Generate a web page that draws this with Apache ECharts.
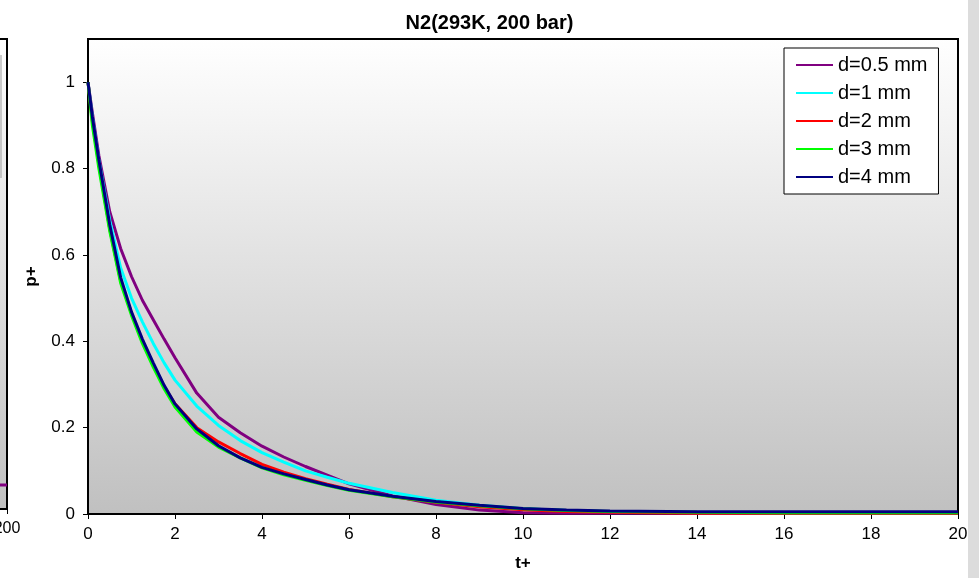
<!DOCTYPE html>
<html>
<head>
<meta charset="utf-8">
<script src="https://cdn.jsdelivr.net/npm/echarts@6/dist/echarts.min.js"></script>
<style>html,body{margin:0;padding:0;background:#fff;}#c{width:979px;height:578px;}</style>
</head>
<body>
<div id="c"></div>
<script>
const titleText = 'N2(293K, 200 bar)';
const seriesNames = ['d=0.5 mm', 'd=1 mm', 'd=2 mm', 'd=3 mm', 'd=4 mm'];
const tVals = [0, 0.1, 0.25, 0.5, 0.75, 1, 1.25, 1.5, 1.75, 2, 2.5, 3, 3.5, 4, 4.5, 5, 5.5, 6, 7, 8, 9, 10, 11, 12, 14, 16, 18, 20];
const pD05 = [1, 0.93, 0.83, 0.7, 0.615, 0.55, 0.495, 0.45, 0.405, 0.362, 0.28, 0.224, 0.188, 0.157, 0.132, 0.11, 0.09, 0.07, 0.042, 0.022, 0.009, 0.003, 0.002, 0.002, 0.002, 0.002, 0.002, 0.002];
const pD1  = [1, 0.92, 0.82, 0.68, 0.57, 0.5, 0.445, 0.395, 0.35, 0.31, 0.25, 0.205, 0.17, 0.142, 0.12, 0.1, 0.085, 0.071, 0.05, 0.032, 0.02, 0.012, 0.008, 0.005, 0.003, 0.003, 0.003, 0.003];
const pD2  = [1, 0.91, 0.81, 0.66, 0.54, 0.465, 0.4, 0.345, 0.295, 0.255, 0.2, 0.167, 0.14, 0.115, 0.097, 0.082, 0.069, 0.057, 0.04, 0.027, 0.017, 0.01, 0.006, 0.004, 0.002, 0.002, 0.002, 0.002];
const pD3  = [1, 0.9, 0.8, 0.655, 0.535, 0.46, 0.395, 0.34, 0.29, 0.248, 0.19, 0.155, 0.13, 0.107, 0.091, 0.078, 0.066, 0.055, 0.04, 0.028, 0.019, 0.012, 0.008, 0.006, 0.004, 0.003, 0.003, 0.003];
const pD4  = [1, 0.92, 0.82, 0.67, 0.548, 0.468, 0.405, 0.35, 0.298, 0.255, 0.197, 0.158, 0.13, 0.108, 0.093, 0.08, 0.067, 0.056, 0.041, 0.029, 0.02, 0.013, 0.009, 0.007, 0.005, 0.005, 0.005, 0.005];
const xMax = 20;
const yTicks = [0, 0.2, 0.4, 0.6, 0.8, 1];
const leftT = [170, 200];
const leftP = [0.056, 0.056];

const colors = ['#800080', '#00ffff', '#ff0000', '#00ff00', '#000080'];
const allP = [pD05, pD1, pD2, pD3, pD4];
const font = 'Arial, "Liberation Sans", sans-serif';
const grad = () => ({type:'linear', x:0, y:0, x2:0, y2:1, colorStops:[{offset:0,color:'#ffffff'},{offset:1,color:'#c0c0c0'}]});

const chart = echarts.init(document.getElementById('c'));
const series = allP.map((arr, i) => ({
  name: seriesNames[i], type: 'line', xAxisIndex: 0, yAxisIndex: 0,
  data: tVals.map((t, j) => [t, arr[j]]),
  showSymbol: false, smooth: false,
  lineStyle: {color: colors[i], width: 3}, itemStyle: {color: colors[i]},
  animation: false, z: 3 + i
}));
series.push({
  name: 'left', type: 'line', xAxisIndex: 1, yAxisIndex: 1,
  data: leftT.map((t, j) => [t, leftP[j]]), showSymbol: false,
  lineStyle: {color: '#800080', width: 3}, animation: false
});

chart.setOption({
  animation: false,
  backgroundColor: '#ffffff',
  title: {text: titleText, left: 'center', top: 8,
    textStyle: {fontFamily: font, fontSize: 20, fontWeight: 'bold', color: '#000'}},
  legend: {
    data: seriesNames, orient: 'vertical', left: 784, top: 48,
    padding: [7, 11, 7, 12], itemGap: 8, itemWidth: 37, itemHeight: 2,
    icon: 'rect', backgroundColor: '#ffffff', borderColor: '#000', borderWidth: 1,
    textStyle: {fontFamily: font, fontSize: 20, color: '#000', lineHeight: 20}
  },
  grid: [
    {left: 88, right: 21, top: 39, bottom: 64, show: true, backgroundColor: grad(), borderColor: '#000', borderWidth: 2, outerBoundsMode: 'none', containLabel: false},
    {left: -393, width: 400, top: 39, bottom: 69, show: true, backgroundColor: grad(), borderColor: '#000', borderWidth: 2, outerBoundsMode: 'none', containLabel: false}
  ],
  xAxis: [
    {type: 'value', gridIndex: 0, min: 0, max: xMax, interval: 2,
      name: 't+', nameLocation: 'middle', nameGap: 41,
      nameTextStyle: {fontFamily: font, fontSize: 17, fontWeight: 'bold', color: '#000'},
      axisLine: {lineStyle: {color: '#000', width: 2}},
      axisTick: {lineStyle: {color: '#000'}, length: 5},
      axisLabel: {fontFamily: font, fontSize: 17, color: '#000', margin: 12},
      splitLine: {show: false}},
    {type: 'value', gridIndex: 1, min: 0, max: 200, interval: 50,
      axisLine: {lineStyle: {color: '#000', width: 2}},
      axisTick: {lineStyle: {color: '#000'}, length: 5},
      axisLabel: {fontFamily: font, fontSize: 16, color: '#000', margin: 12},
      splitLine: {show: false}}
  ],
  yAxis: [
    {type: 'value', gridIndex: 0, min: 0, max: 1.1,
      name: 'p+', nameLocation: 'middle', nameGap: 48, nameRotate: 90,
      nameTextStyle: {fontFamily: font, fontSize: 17, fontWeight: 'bold', color: '#000'},
      axisLine: {lineStyle: {color: '#000', width: 2}},
      axisTick: {lineStyle: {color: '#000'}, length: 5, customValues: yTicks},
      axisLabel: {fontFamily: font, fontSize: 17, color: '#000', margin: 13, customValues: yTicks,
        formatter: v => String(Math.round(v * 10) / 10)},
      splitLine: {show: false}},
    {type: 'value', gridIndex: 1, min: 0, max: 1.1, show: false}
  ],
  graphic: [
    {type: 'rect', shape: {x: 968, y: 0, width: 11, height: 578}, style: {fill: '#dcdcdc'}, z: 100},
    {type: 'line', shape: {x1: 1, y1: 55, x2: 1, y2: 178}, style: {stroke: '#9a9a9a', lineWidth: 1}, z: 100}
  ],
  series: series
});
</script>
</body>
</html>
